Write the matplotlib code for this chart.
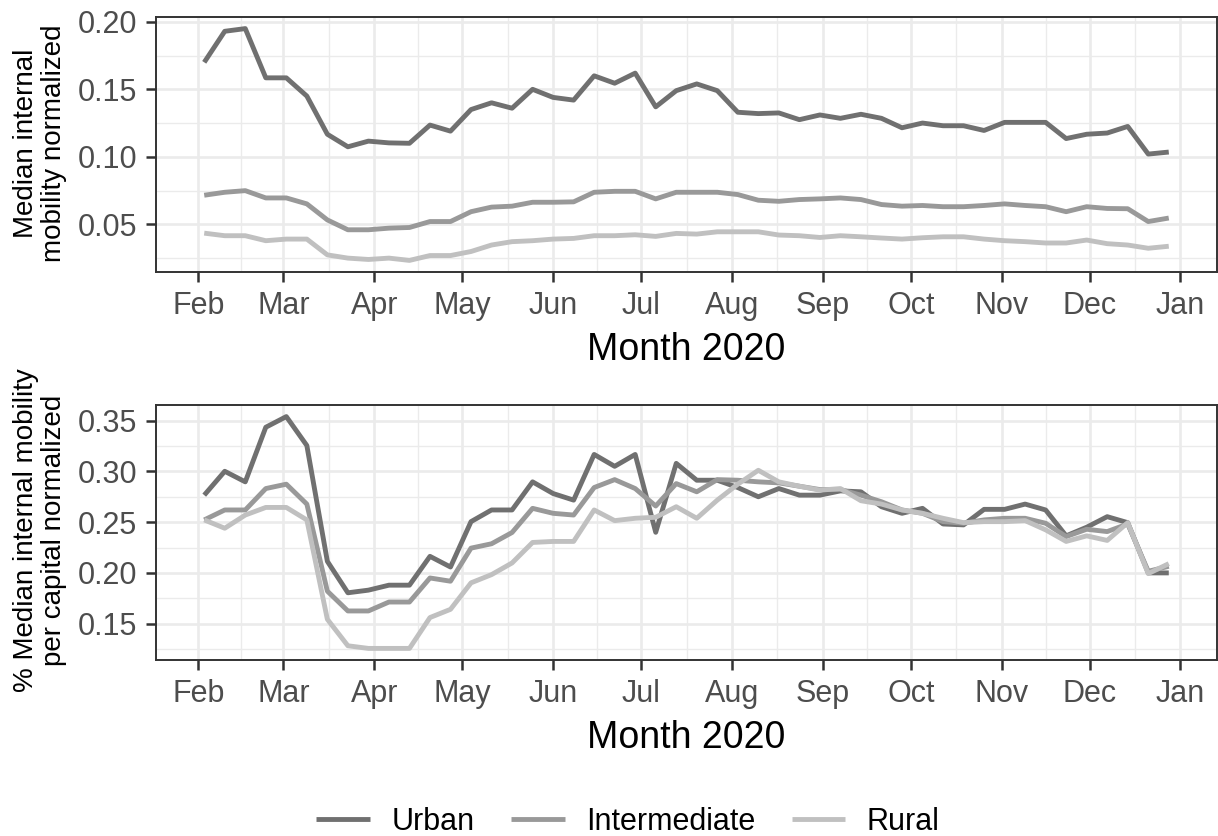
import numpy as np
import pandas as pd
import matplotlib
matplotlib.use('Agg')
from matplotlib import pyplot as plt
import matplotlib.dates as mdates
import matplotlib.ticker as mticker

plt.rcParams['font.family'] = ['Liberation Sans', 'DejaVu Sans']

# weekly points, mondays from early Feb to end of Dec 2020
weeks = pd.date_range('2020-02-03', periods=48, freq='7D')

# top panel: median internal mobility normalized
urban_norm = [0.170, 0.193, 0.195, 0.1585, 0.1585, 0.145, 0.1167, 0.1074, 0.1116, 0.1103,
              0.110, 0.1235, 0.119, 0.135, 0.140, 0.136, 0.150, 0.144, 0.142, 0.160,
              0.1545, 0.162, 0.137, 0.149, 0.154, 0.149, 0.133, 0.132, 0.1325, 0.1275,
              0.131, 0.1285, 0.1315, 0.1285, 0.1215, 0.125, 0.123, 0.123, 0.1195, 0.1255,
              0.1255, 0.1255, 0.1135, 0.1167, 0.1176, 0.1225, 0.102, 0.1035]
inter_norm = [0.0715, 0.0737, 0.0749, 0.0695, 0.0695, 0.0651, 0.0532, 0.0459, 0.0459, 0.0471,
              0.0476, 0.052, 0.052, 0.0593, 0.0627, 0.0634, 0.0663, 0.0663, 0.0666, 0.0737,
              0.0744, 0.0744, 0.0688, 0.0737, 0.0737, 0.0737, 0.072, 0.0678, 0.067, 0.0683,
              0.0688, 0.0695, 0.0683, 0.0646, 0.0634, 0.0639, 0.063, 0.063, 0.0639, 0.0651,
              0.0639, 0.063, 0.0593, 0.063, 0.0617, 0.0615, 0.052, 0.0546]
rural_norm = [0.0434, 0.0415, 0.0415, 0.0378, 0.039, 0.039, 0.0273, 0.0249, 0.0239, 0.0249,
              0.0232, 0.0268, 0.0268, 0.0298, 0.0346, 0.0371, 0.0378, 0.039, 0.0395, 0.0415,
              0.0415, 0.0422, 0.041, 0.0432, 0.0427, 0.0444, 0.0444, 0.0444, 0.042, 0.0415,
              0.0402, 0.0415, 0.0407, 0.0398, 0.039, 0.040, 0.0407, 0.0407, 0.039, 0.0378,
              0.0371, 0.0361, 0.0361, 0.0383, 0.0356, 0.0346, 0.0322, 0.0337]

# bottom panel: % median internal mobility per capita normalized
urban_pc = [0.2766, 0.3001, 0.2897, 0.3435, 0.354, 0.3255, 0.2114, 0.1804, 0.183, 0.1879,
            0.1879, 0.2163, 0.2058, 0.2505, 0.262, 0.262, 0.2897, 0.2782, 0.2717, 0.3167,
            0.305, 0.3167, 0.240, 0.3079, 0.2913, 0.2913, 0.2841, 0.275, 0.2831, 0.2766,
            0.2766, 0.2808, 0.2799, 0.2652, 0.2587, 0.2636, 0.2482, 0.2473, 0.2626, 0.2626,
            0.2678, 0.262, 0.2365, 0.245, 0.2554, 0.2495, 0.200, 0.200]
inter_pc = [0.2522, 0.262, 0.262, 0.2831, 0.2874, 0.2678, 0.182, 0.1625, 0.1625, 0.1713,
            0.1713, 0.195, 0.1918, 0.2244, 0.2287, 0.2398, 0.2636, 0.2587, 0.257, 0.2841,
            0.2919, 0.2831, 0.2659, 0.288, 0.2799, 0.2919, 0.2913, 0.2897, 0.2887, 0.2854,
            0.2821, 0.2821, 0.2766, 0.2701, 0.262, 0.2587, 0.2505, 0.2489, 0.2522, 0.2538,
            0.2538, 0.2489, 0.2358, 0.243, 0.2407, 0.2482, 0.2016, 0.2065]
rural_pc = [0.2522, 0.244, 0.257, 0.2645, 0.2645, 0.2522, 0.1543, 0.1282, 0.1256, 0.1256,
            0.1256, 0.156, 0.1641, 0.1902, 0.1983, 0.2098, 0.230, 0.231, 0.231, 0.262,
            0.2515, 0.2538, 0.2548, 0.2652, 0.2538, 0.2717, 0.2874, 0.3011, 0.2897, 0.2854,
            0.2815, 0.2831, 0.2711, 0.2678, 0.262, 0.2587, 0.2538, 0.2495, 0.2505, 0.2505,
            0.2515, 0.2424, 0.231, 0.2365, 0.232, 0.2495, 0.1993, 0.2091]

groups = ['Urban', 'Intermediate', 'Rural']
colors = ['#707070', '#999999', '#c0c0c0']

fig = plt.figure(figsize=(12.18, 8.36), dpi=100)
ax1 = fig.add_axes([156/1218, 1 - 272/836, 1061/1218, 255/836])
ax2 = fig.add_axes([156/1218, 1 - 660/836, 1061/1218, 255/836])

month_starts = pd.date_range('2020-01-01', '2021-02-01', freq='MS')
month_mids = month_starts[:-1] + (month_starts[1:] - month_starts[:-1]) / 2


def style_axis(ax, ylabel_text, ylab_y):
    ax.xaxis.set_major_locator(mdates.MonthLocator())
    ax.xaxis.set_major_formatter(mdates.DateFormatter('%b'))
    ax.xaxis.set_minor_locator(mticker.FixedLocator(mdates.date2num(month_mids)))
    ax.yaxis.set_major_locator(mticker.MultipleLocator(0.05))
    ax.yaxis.set_minor_locator(mticker.MultipleLocator(0.025))
    ax.yaxis.set_major_formatter(mticker.FormatStrFormatter('%.2f'))
    ax.grid(which='major', color='#ebebeb', lw=1.9)
    ax.grid(which='minor', color='#ebebeb', lw=1.0)
    ax.set_axisbelow(True)
    for s in ax.spines.values():
        s.set_color('#333333')
        s.set_linewidth(1.4)
    ax.tick_params(which='major', length=7, width=1.8, color='#333333',
                   labelsize=22, labelcolor='#4d4d4d', pad=6.5)
    ax.tick_params(which='minor', length=0)
    ax.set_xlabel('Month 2020', fontsize=27, color='black', labelpad=8)
    fig.text(40/1218, ylab_y, ylabel_text, rotation=90, ha='center', va='center',
             fontsize=20, multialignment='center', linespacing=1.1)


for ys, c, g in zip([urban_norm, inter_norm, rural_norm], colors, groups):
    ax1.plot(weeks, ys, color=c, lw=3.5, label=g, solid_capstyle='butt')
for ys, c in zip([urban_pc, inter_pc, rural_pc], colors):
    ax2.plot(weeks, ys, color=c, lw=3.5, solid_capstyle='butt')

style_axis(ax1, 'Median internal\nmobility normalized', 1 - 143/836)
style_axis(ax2, '% Median internal mobility\nper capital normalized', 1 - 530/836)

handles, labels = ax1.get_legend_handles_labels()
fig.legend(handles, labels, loc='center', bbox_to_anchor=(628/1218, 1 - 822/836),
           ncol=3, frameon=False, fontsize=22, handlelength=1.75,
           handletextpad=0.7, columnspacing=1.2)

fig.savefig('out.png', dpi=100)
